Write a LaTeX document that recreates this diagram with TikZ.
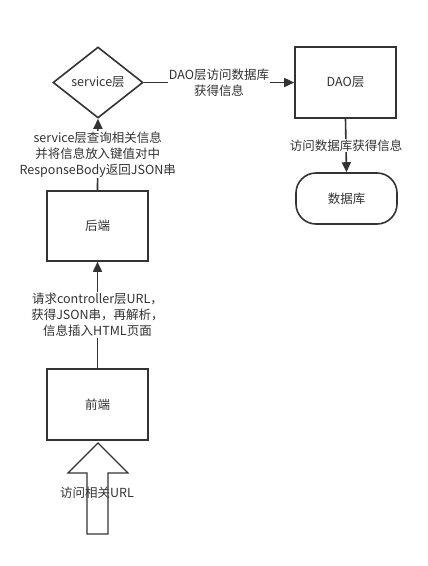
\documentclass[tikz,border=0pt]{standalone}
\usepackage{fontspec}
\setmainfont{Noto Sans CJK SC}
\usetikzlibrary{shapes.geometric,arrows.meta}
\definecolor{ink}{HTML}{333333}
\begin{document}
\begin{tikzpicture}[x=1pt,y=-1pt,
  every node/.style={text=ink, font=\fontsize{12.5}{16}\selectfont},
  box/.style={draw=ink, line width=1.6pt, minimum width=101pt, minimum height=71pt, inner sep=0pt},
  lbl/.style={fill=white, align=center, inner sep=1pt},
  conn/.style={draw=ink, line width=1.6pt, -{Triangle[length=10pt,width=9pt]}}]
\useasboundingbox[fill=white] (0,0) rectangle (428,566);
\node[diamond, draw=ink, line width=1.6pt, minimum width=90pt, minimum height=71pt, inner sep=0pt] (svc) at (98,82.5) {service层};
\node[box] (dao) at (345.5,82.5) {DAO层};
\node[box, minimum height=51pt, rounded corners=20pt] (db) at (346.5,198.5) {数据库};
\node[box, minimum height=70pt] (be) at (97.5,226) {后端};
\node[box] (fe) at (97.5,404.5) {前端};
\draw[conn] (svc.east) -- node[lbl] {DAO层访问数据库\\获得信息} (dao.west);
\draw[conn] (dao.south) -- node[lbl, pos=0.5] {访问数据库获得信息} (db.north);
\draw[conn] (be.north) -- node[lbl] {service层查询相关信息\\并将信息放入键值对中\\ResponseBody返回JSON串} (svc.south);
\draw[conn] (fe.north) -- node[lbl] {请求controller层URL，\\获得JSON串，再解析，\\信息插入HTML页面} (be.south);
\coordinate (tip) at (98,443);
\draw[draw=ink, line width=1.2pt, line join=miter] (tip) -- (128,473) -- (108,473) -- (108,534) -- (87,534) -- (87,473) -- (68,473) -- cycle;
\node (url) at (97,493) {访问相关URL};
\end{tikzpicture}
\end{document}
